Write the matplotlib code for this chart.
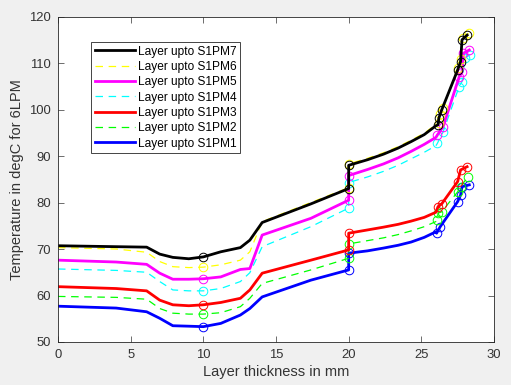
import matplotlib.pyplot as plt

plt.rcParams['font.family'] = ['Liberation Sans', 'DejaVu Sans']

# common grid for the smooth part of every profile (two points at 20 mm = step)
x_main = [0, 4, 6.1, 7, 7.9, 9, 10, 11.2, 12.55, 13.2, 14.05, 17.4, 20, 20, 21.3, 22.4, 23.4, 24.3, 25.2, 26.0]

y_pm7 = [70.7, 70.5, 70.4, 68.9, 68.2, 67.9, 68.3, 69.4, 70.3, 71.9, 75.7, 79.7, 83.0, 88.0,
         89.2, 90.4, 91.7, 93.1, 94.6, 96.5]
y_pm6 = [70.3, 70.0, 69.3, 67.3, 66.2, 66.0, 66.1, 66.6, 67.6, 69.4, 75.9, 80.0, 83.2, 88.3,
         89.5, 90.7, 92.0, 93.4, 94.9, 96.8]
y_pm5 = [67.6, 67.2, 66.7, 64.8, 63.5, 63.5, 63.6, 64.0, 65.6, 65.8, 73.0, 76.6, 80.5, 85.8,
         87.1, 88.3, 89.6, 91.0, 92.5, 94.0]
y_pm4 = [65.7, 65.4, 65.0, 63.0, 61.2, 61.0, 61.0, 61.5, 63.0, 64.9, 70.5, 74.8, 78.8, 84.3,
         85.5, 86.7, 88.0, 89.4, 90.8, 92.2]
y_pm3 = [61.9, 61.5, 61.0, 59.0, 58.0, 57.8, 58.0, 58.5, 59.4, 61.2, 64.8, 67.6, 69.8, 73.4,
         74.1, 74.7, 75.3, 76.0, 76.8, 77.9]
y_pm2 = [59.8, 59.6, 59.2, 57.2, 56.2, 56.0, 56.0, 56.3, 57.6, 59.4, 62.6, 65.5, 68.0, 71.1,
         71.8, 72.4, 73.1, 73.9, 74.8, 75.9]
y_pm1 = [57.7, 57.3, 56.5, 55.1, 53.5, 53.4, 53.3, 54.0, 55.8, 57.2, 59.7, 63.3, 65.5, 69.1,
         69.6, 70.2, 70.8, 71.5, 72.5, 73.7]

# measured points near the outer surface
cx_pm7 = [26.15, 26.2, 26.4, 27.5, 27.7, 27.8, 28.15]
cy_pm7 = [96.7, 98.1, 99.9, 108.5, 110.3, 115.0, 116.0]
cx_pm6 = [26.2, 26.3, 26.5, 27.5, 27.7, 27.85, 28.25]
cy_pm6 = [97.0, 99.0, 100.3, 109.0, 110.8, 115.4, 116.4]
cx_pm5 = [26.1, 26.5, 27.6, 27.8, 27.9, 28.3]
cy_pm5 = [94.5, 96.3, 107.0, 108.0, 112.1, 112.8]
cx_pm4 = [26.1, 26.5, 27.6, 27.8, 28.0, 28.35]
cy_pm4 = [92.7, 95.2, 104.9, 106.0, 111.0, 111.8]
cx_pm3 = [26.15, 26.4, 27.5, 27.7, 28.15]
cy_pm3 = [79.1, 79.7, 84.5, 87.0, 87.7]
cx_pm2 = [26.1, 26.15, 26.4, 27.5, 27.7, 28.2]
cy_pm2 = [76.2, 77.7, 78.0, 82.3, 83.4, 85.5]
cx_pm1 = [26.05, 26.3, 27.5, 27.7, 27.8, 28.3]
cy_pm1 = [73.4, 74.8, 80.2, 81.6, 83.4, 83.8]

labels = ['Layer upto S1PM1', 'Layer upto S1PM2', 'Layer upto S1PM3', 'Layer upto S1PM4',
          'Layer upto S1PM5', 'Layer upto S1PM6', 'Layer upto S1PM7']
colors = ['#0000ff', '#00ff00', '#ff0000', '#00ffff', '#ff00ff', '#ffff00', '#000000']
dashed = [False, True, False, True, False, True, False]

ys = [y_pm1, y_pm2, y_pm3, y_pm4, y_pm5, y_pm6, y_pm7]
cxs = [cx_pm1, cx_pm2, cx_pm3, cx_pm4, cx_pm5, cx_pm6, cx_pm7]
cys = [cy_pm1, cy_pm2, cy_pm3, cy_pm4, cy_pm5, cy_pm6, cy_pm7]
mark_idx = [6, 12, 13]  # x = 10 and both sides of the step at 20

fig = plt.figure(figsize=(5.11, 3.85), dpi=100, facecolor='#f0f0f0')
ax = fig.add_axes([58 / 511, 1 - 342 / 385, 436 / 511, 325.5 / 385])

handles = []
for y, cx, cy, lab, c, d in zip(ys, cxs, cys, labels, colors, dashed):
    xx = x_main + cx
    yy = y + cy
    if d:
        h, = ax.plot(xx, yy, color=c, lw=0.9, dashes=(6, 4.5), label=lab)
    else:
        h, = ax.plot(xx, yy, color=c, lw=2.0, label=lab)
    handles.append(h)
    mx = [x_main[i] for i in mark_idx] + cx
    my = [y[i] for i in mark_idx] + cy
    ax.plot(mx, my, 'o', mfc='none', mec=c, ms=6.2, mew=0.7)

ax.set_xlim(0, 30)
ax.set_ylim(50, 120)
ax.set_xticks(range(0, 31, 5))
ax.set_yticks(range(50, 121, 10))
ax.tick_params(direction='in', top=True, right=True, length=4, width=0.5,
               labelsize=9.4, colors='#333333', pad=5)
for s in ax.spines.values():
    s.set_linewidth(0.6)
    s.set_color('#262626')

ax.set_xlabel('Layer thickness in mm', fontsize=10.5, color='#333333', labelpad=3)
ax.set_ylabel('Temperature in degC for 6LPM', fontsize=10.5, color='#333333', labelpad=4)

leg = ax.legend(handles[::-1], labels[::-1], loc='upper left',
                bbox_to_anchor=(0.0757, 0.9217), borderaxespad=0, fontsize=8.6,
                handlelength=3.4, handletextpad=0.25, labelspacing=0.28,
                borderpad=0.3, fancybox=False, framealpha=1)
leg.get_frame().set_edgecolor('#262626')
leg.get_frame().set_linewidth(0.6)

fig.savefig('out.png', dpi=100, facecolor=fig.get_facecolor())
